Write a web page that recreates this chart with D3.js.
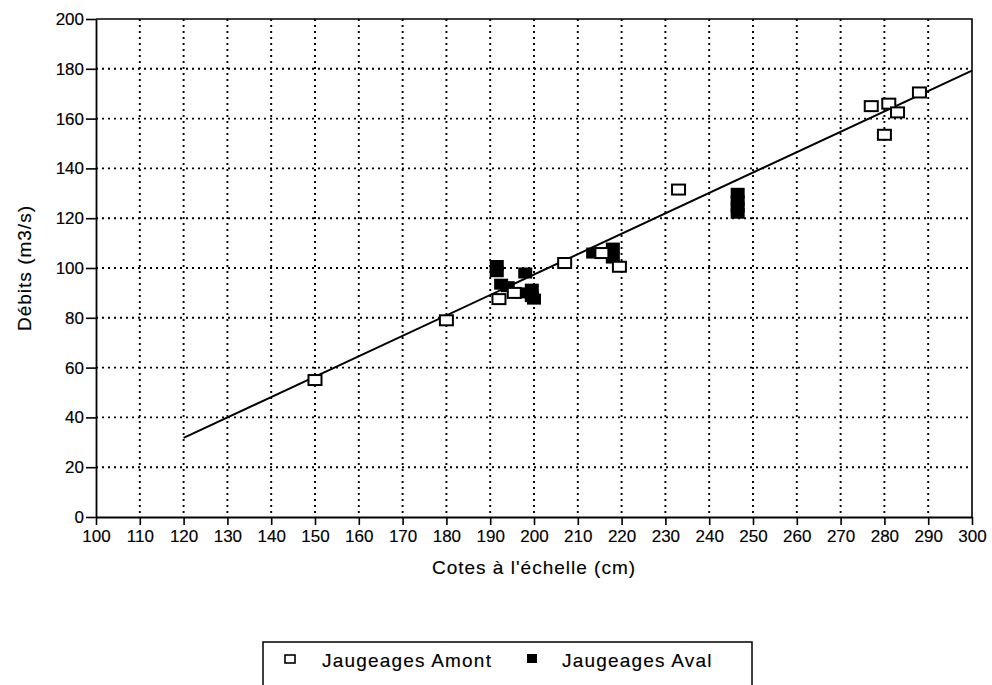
<!DOCTYPE html>
<html>
<head>
<meta charset="utf-8">
<script src="https://cdn.jsdelivr.net/npm/d3@7"></script>
<style>
  body { margin: 0; background: #fff; }
  svg { display: block; }
  text { font-family: "Liberation Sans", Arial, Helvetica, sans-serif; fill: #000; stroke: #000; stroke-width: 0.15px; }
</style>
</head>
<body>
<svg id="chart" width="992" height="685"></svg>
<script>
// Axis ticks
const xTicks = d3.range(100, 301, 10);
const yTicks = d3.range(0, 201, 20);

// Upstream gaugings (Jaugeages Amont): stage (cm) and discharge (m3/s)
const amontCote  = [150, 180, 192, 195.5, 207, 215.5, 219.5, 233, 277, 281, 283, 280, 288];
const amontDebit = [55, 79, 87.5, 90, 102, 106, 100.5, 131.5, 165, 166, 162.5, 153.5, 170.5];

// Downstream gaugings (Jaugeages Aval)
const avalCote  = [191.5, 191.5, 192.5, 194, 198, 197, 199.5, 199.5, 200, 213.5, 218, 218, 217.5, 246.5, 246.5, 246.5, 246.5];
const avalDebit = [101, 98.5, 93.5, 92.5, 98, 90, 91.5, 88.5, 87.5, 106, 108, 104, 106, 130, 127, 124.5, 122];

// Rating curve (straight-line fit)
const fitCote  = [120, 300];
const fitDebit = [31.8, 179.3];

const svg = d3.select("#chart");

const x = d3.scaleLinear().domain([100, 300]).range([96, 972]);
const y = d3.scaleLinear().domain([0, 200]).range([517, 19]);

// Dotted grid
const grid = svg.append("g").attr("stroke", "#000").attr("stroke-width", 1.9)
  .attr("stroke-dasharray", "2,4");
grid.selectAll("line.v").data(xTicks.filter(d => d > 100 && d < 300)).join("line")
  .attr("class", "v")
  .attr("x1", d => x(d)).attr("x2", d => x(d))
  .attr("y1", y(200)).attr("y2", y(0));
grid.selectAll("line.h").data(yTicks.filter(d => d > 0 && d < 200)).join("line")
  .attr("class", "h")
  .attr("x1", x(100)).attr("x2", x(300))
  .attr("y1", d => y(d)).attr("y2", d => y(d));

// Frame: top and right borders
svg.append("path")
  .attr("d", `M${x(100)},${y(200)}H${x(300)}V${y(0)}`)
  .attr("fill", "none").attr("stroke", "#000").attr("stroke-width", 1.6);

// Axes
const yAxis = svg.append("g")
  .attr("transform", `translate(${x(100)},0)`)
  .call(d3.axisLeft(y).tickValues(yTicks).tickSize(10).tickSizeOuter(0).tickPadding(2));
const xAxis = svg.append("g")
  .attr("transform", `translate(0,${y(0)})`)
  .call(d3.axisBottom(x).tickValues(xTicks).tickSize(8).tickSizeOuter(0).tickPadding(5));

[xAxis, yAxis].forEach(g => {
  g.select(".domain").attr("stroke", "#000").attr("stroke-width", 1.8);
  g.selectAll(".tick line").attr("stroke", "#000").attr("stroke-width", 1.6);
  g.selectAll(".tick text")
    .style("font-family", "\"Liberation Sans\", Arial, sans-serif")
    .style("font-size", "17px").attr("fill", "#000");
});

// Fitted line
svg.append("path")
  .datum(fitCote.map((c, i) => [c, fitDebit[i]]))
  .attr("d", d3.line().x(d => x(d[0])).y(d => y(d[1])))
  .attr("fill", "none").attr("stroke", "#000").attr("stroke-width", 2);

const mw = 14, mh = 11;

// Downstream points (filled)
svg.append("g").selectAll("rect")
  .data(avalCote.map((c, i) => [c, avalDebit[i]]))
  .join("rect")
  .attr("x", d => x(d[0]) - mw / 2).attr("y", d => y(d[1]) - mh / 2)
  .attr("width", mw).attr("height", mh)
  .attr("fill", "#000");

// Upstream points (open)
svg.append("g").selectAll("rect")
  .data(amontCote.map((c, i) => [c, amontDebit[i]]))
  .join("rect")
  .attr("x", d => x(d[0]) - (mw - 1) / 2).attr("y", d => y(d[1]) - (mh - 1) / 2)
  .attr("width", mw - 1).attr("height", mh - 1)
  .attr("fill", "#fff").attr("stroke", "#000").attr("stroke-width", 2);

// Axis titles
svg.append("text")
  .attr("x", (x(100) + x(300)) / 2).attr("y", 574)
  .attr("text-anchor", "middle")
  .style("font-size", "19px").style("letter-spacing", "1px")
  .text("Cotes à l'échelle (cm)");

svg.append("text")
  .attr("transform", `translate(31,${(y(0) + y(200)) / 2}) rotate(-90)`)
  .attr("text-anchor", "middle")
  .style("font-size", "19px").style("letter-spacing", "1px")
  .text("Débits (m3/s)");

// Legend
const legend = svg.append("g");
legend.append("rect")
  .attr("x", 263).attr("y", 642).attr("width", 489).attr("height", 80)
  .attr("fill", "#fff").attr("stroke", "#000").attr("stroke-width", 1.5);
legend.append("rect")
  .attr("x", 285).attr("y", 655).attr("width", 10).attr("height", 8)
  .attr("fill", "#fff").attr("stroke", "#000").attr("stroke-width", 1.6);
legend.append("text")
  .attr("x", 322).attr("y", 667)
  .style("font-size", "19px").style("letter-spacing", "1.2px")
  .text("Jaugeages Amont");
legend.append("rect")
  .attr("x", 527).attr("y", 654).attr("width", 10).attr("height", 9)
  .attr("fill", "#000");
legend.append("text")
  .attr("x", 562).attr("y", 667)
  .style("font-size", "19px").style("letter-spacing", "1.2px")
  .text("Jaugeages Aval");
</script>
</body>
</html>
